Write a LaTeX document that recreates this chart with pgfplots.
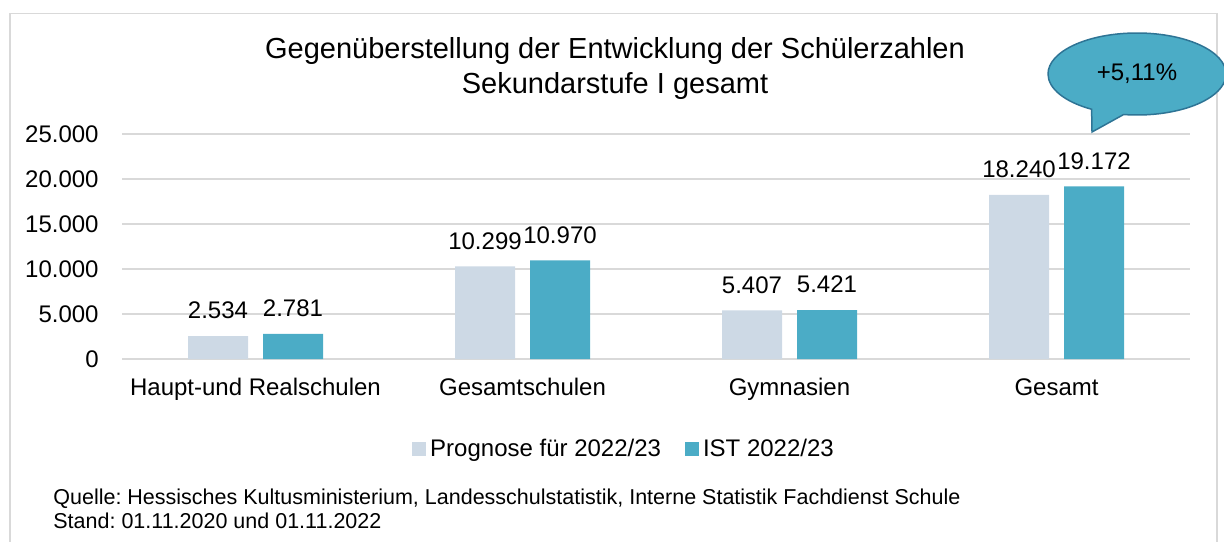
\documentclass[border=0pt]{standalone}
\usepackage{pgfplots}
\pgfplotsset{compat=1.18}
\usepackage{fontspec}
\setmainfont{Liberation Sans}
\usetikzlibrary{shapes.callouts}
\definecolor{prog}{HTML}{CDD9E5}
\definecolor{ist}{HTML}{4BACC6}
\definecolor{rahmen}{HTML}{D9D9D9}
\definecolor{callrand}{HTML}{2E7495}
\newcommand{\fsmain}{\fontsize{12}{14}\selectfont}
\frenchspacing

\begin{document}
\begin{tikzpicture}
\path[use as bounding box] (0,0) rectangle (612pt,-270.5pt);
\draw[rahmen, line width=0.75pt] (5pt,-275pt) -- (5pt,-6.75pt) -- (608.5pt,-6.75pt) -- (608.5pt,-275pt);

\begin{axis}[
    at={(61pt,-179.5pt)}, anchor=south west,
    width=534pt, height=112.5pt, scale only axis,
    ybar, bar width=30pt,
    xmin=-0.5, xmax=3.5, ymin=0, ymax=25000,
    enlargelimits=false, clip=false,
    xtick={0,1,2,3},
    xticklabels={Haupt-und Realschulen, Gesamtschulen, Gymnasien, Gesamt},
    ytick={0,5000,10000,15000,20000,25000},
    scaled y ticks=false,
    /pgf/number format/.cd, 1000 sep={.}, assume math mode=true, /pgfplots/.cd,
    ymajorgrids, grid style={rahmen, line width=0.75pt},
    axis line style={draw=none}, major tick length=0pt,
    tick label style={font=\fsmain},
    yticklabel style={anchor=east, inner sep=0pt, xshift=-11.5pt},
    xticklabel style={anchor=base, inner sep=0pt, yshift=-18pt},
    nodes near coords,
    every node near coord/.append style={font=\fsmain, inner sep=0pt, yshift=8.3pt},
    legend style={at={(axis description cs:0.471,-0.4)}, anchor=center,
        draw=none, fill=none, font=\fsmain, legend columns=2,
        /tikz/every even column/.append style={column sep=10pt}},
    sqleg/.style={legend image code/.code={\fill[##1] (-1.5pt,-3.5pt) rectangle (5.5pt,3.5pt);}},
]
\addplot[fill=prog, draw=none, bar shift=-18.75pt, sqleg]
    coordinates {(0,2534) (1,10299) (2,5407) (3,18240)};
\addplot[fill=ist, draw=none, bar shift=18.75pt, sqleg]
    coordinates {(0,2781) (1,10970) (2,5421) (3,19172)};
\legend{Prognose für 2022/23, IST 2022/23}
\end{axis}

\node[font=\fontsize{14.5}{17}\selectfont, anchor=base] at (307.5pt,-29pt)
    {Gegenüberstellung der Entwicklung der Schülerzahlen};
\node[font=\fontsize{14.5}{17}\selectfont, anchor=base] at (307.5pt,-46.5pt)
    {Sekundarstufe I gesamt};

\node[ellipse callout, draw=callrand, fill=ist, line width=0.75pt,
    minimum width=89pt, minimum height=41pt, inner sep=0pt,
    callout absolute pointer={(546pt,-66pt)}, callout pointer arc=22,
    font=\fsmain] at (568.5pt,-37pt) {+5,11\%};

\node[font=\fontsize{10.75}{12}\selectfont, anchor=base west, inner sep=0pt] at (26.5pt,-252pt)
    {Quelle: Hessisches Kultusministerium, Landesschulstatistik, Interne Statistik Fachdienst Schule};
\node[font=\fontsize{10.75}{12}\selectfont, anchor=base west, inner sep=0pt] at (26.5pt,-264pt)
    {Stand: 01.11.2020 und 01.11.2022};
\end{tikzpicture}
\end{document}
